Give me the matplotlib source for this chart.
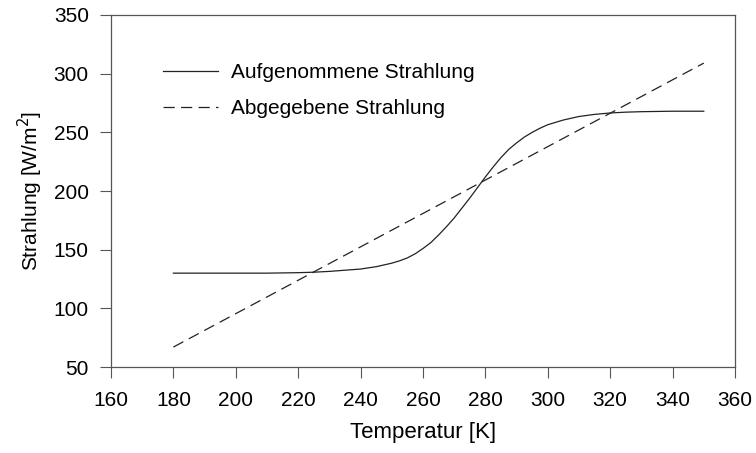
import numpy as np
import matplotlib.pyplot as plt

plt.rcParams['font.family'] = ['Liberation Sans', 'DejaVu Sans']

# absorbed radiation (S-shaped, ice-albedo feedback)
temp_abs = [180, 185, 190, 195, 200, 205, 210, 215, 220, 225, 230, 235, 240,
            245, 250, 252.5, 255, 257.5, 260, 262.5, 265, 267.5, 270, 272.5,
            275, 277.5, 280, 282.5, 285, 287.5, 290, 292.5, 295, 297.5, 300,
            305, 310, 315, 320, 325, 330, 335, 340, 345, 350]
rad_abs = [130.0, 130.0, 130.0, 130.0, 130.0, 130.0, 130.0, 130.2, 130.4,
           130.8, 131.5, 132.5, 133.5, 135.5, 138.5, 140.5, 143.0, 146.5,
           151.0, 156.0, 162.5, 169.5, 177.0, 185.5, 194.0, 203.0, 212.0,
           220.5, 228.5, 235.5, 241.0, 246.0, 250.0, 253.5, 256.5, 260.5,
           263.5, 265.3, 266.5, 267.2, 267.6, 267.8, 268.0, 268.0, 268.0]

# emitted radiation (linearised)
temp_emit = [180, 350]
rad_emit = [67, 309]

fig = plt.figure(figsize=(7.56, 4.53), dpi=100)
ax = fig.add_axes([0.1468, 0.1898, 0.8254, 0.7771])

ax.plot(temp_abs, rad_abs, '-', color='#222222', linewidth=0.9,
        label='Aufgenommene Strahlung')
ax.plot(temp_emit, rad_emit, color='#222222', linewidth=0.9,
        dashes=(9, 5), label='Abgegebene Strahlung')

ax.set_xlim(160, 360)
ax.set_ylim(50, 350)
ax.set_xticks(np.arange(160, 361, 20))
ax.set_yticks(np.arange(50, 351, 50))
ax.tick_params(direction='out', length=8, width=0.8, labelsize=15,
               color='#555555')
ax.tick_params(axis='x', pad=9)
ax.tick_params(axis='y', pad=8)
for s in ax.spines.values():
    s.set_color('#555555')
    s.set_linewidth(0.9)

ax.set_xlabel('Temperatur [K]', fontsize=16, labelpad=9)
ax.set_ylabel(r'Strahlung [W/m$^2$]', fontsize=15, labelpad=6)

leg = ax.legend(loc='upper left', bbox_to_anchor=(0.054, 0.916), frameon=False,
                fontsize=15, handlelength=2.6, handletextpad=0.65,
                labelspacing=0.8)

fig.savefig('out.png', dpi=100)
